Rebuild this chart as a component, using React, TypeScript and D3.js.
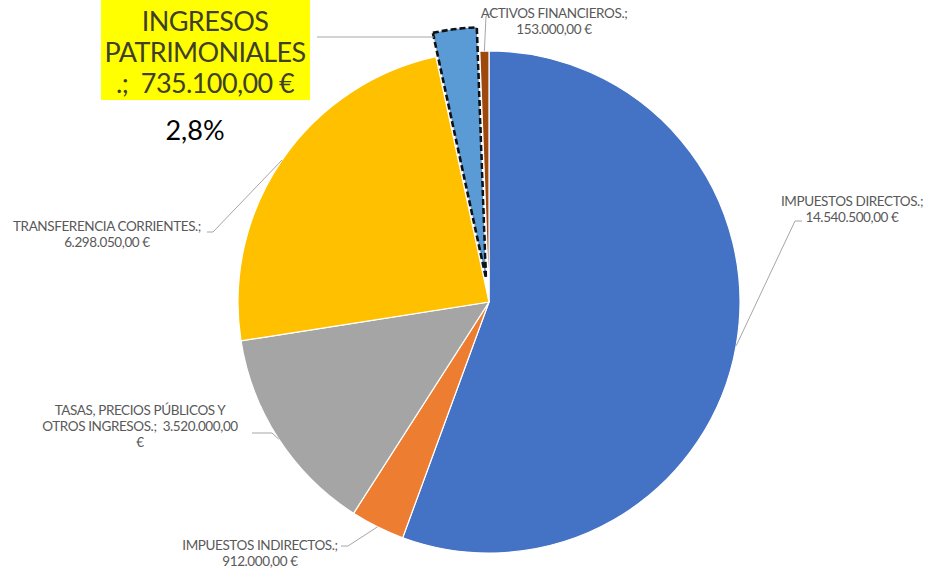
import { arc, formatLocale, pie, PieArcDatum } from "d3";

const categories = [
    "IMPUESTOS DIRECTOS",
    "IMPUESTOS INDIRECTOS",
    "TASAS, PRECIOS PÚBLICOS Y OTROS INGRESOS",
    "TRANSFERENCIA CORRIENTES",
    "INGRESOS PATRIMONIALES",
    "ACTIVOS FINANCIEROS",
];
const values = [14540500, 912000, 3520000, 6298050, 735100, 153000];
const colors = ["#4472C4", "#ED7D31", "#A5A5A5", "#FFC000", "#5B9BD5", "#9E480E"];
const highlighted = 4;

// label text lines as the source wrapped them
const labelLines = [
    ["IMPUESTOS DIRECTOS.;", "14.540.500,00 €"],
    ["IMPUESTOS INDIRECTOS.;", "912.000,00 €"],
    ["TASAS, PRECIOS PÚBLICOS Y", "OTROS INGRESOS.;  3.520.000,00", "€"],
    ["TRANSFERENCIA CORRIENTES.;", "6.298.050,00 €"],
    ["INGRESOS", "PATRIMONIALES", ".;  735.100,00 €"],
    ["ACTIVOS FINANCIEROS.;", "153.000,00 €"],
];

// layout: label centre x / first baseline, and where the leader line leaves the label
const labelPos = [
    { x: 852, y: 206, hx: 802, hy: 221, kx: 795 },
    { x: 260, y: 550, hx: 341, hy: 546, kx: 348 },
    { x: 140, y: 415, hx: 252, hy: 433, kx: 272 },
    { x: 107, y: 231, hx: 207, hy: 232, kx: 213 },
    { x: 205, y: 31, hx: 317, hy: 37, kx: 317 },
    { x: 554, y: 18, hx: 492, hy: 13, kx: 486 },
];

const W = 929;
const H = 572;
const cx = 489;
const cy = 302;
const R = 251;
const explode = 24;

const fmt = formatLocale({ decimal: ",", thousands: ".", grouping: [3], currency: ["", " €"] }).format(".1f");

export default function App() {
    const total = values.reduce((a, b) => a + b, 0);
    const arcs = pie<number>().sort(null).value((d) => d)(values);
    const arcGen = arc<PieArcDatum<number>>().innerRadius(0).outerRadius(R);
    const edge = arc<PieArcDatum<number>>().innerRadius(R).outerRadius(R);

    const offset = (d: PieArcDatum<number>, i: number) => {
        if (i !== highlighted) return [0, 0];
        const a = (d.startAngle + d.endAngle) / 2;
        return [Math.sin(a) * explode, -Math.cos(a) * explode];
    };

    const font = "Lato, 'Noto Sans', sans-serif";
    const pct = (values[highlighted] / total) * 100;

    return (
        <svg width={W} height={H} style={{ position: "absolute", left: 0, top: 0, background: "#fff" }}>
            <g transform={`translate(${cx},${cy})`}>
                {arcs.map((d, i) => {
                    const [ox, oy] = offset(d, i);
                    return (
                        <path
                            key={i}
                            d={arcGen(d) ?? ""}
                            transform={`translate(${ox},${oy})`}
                            fill={colors[i]}
                            stroke={i === highlighted ? "#111" : "#fff"}
                            strokeWidth={i === highlighted ? 2.6 : 1.2}
                            strokeDasharray={i === highlighted ? "6,3" : undefined}
                        />
                    );
                })}
            </g>

            {arcs.map((d, i) => {
                const p = labelPos[i];
                let ex: number, ey: number;
                if (i === highlighted) {
                    // leader ends on the left side of the pulled-out slice
                    const [ox, oy] = offset(d, i);
                    const dist = (cy + oy - p.hy) / Math.cos(d.startAngle);
                    ex = cx + ox + Math.sin(d.startAngle) * dist;
                    ey = p.hy;
                } else {
                    const [mx, my] = edge.centroid(d);
                    ex = cx + mx;
                    ey = cy + my;
                }
                const pts = i === 5
                    ? `${p.hx},${p.hy} ${p.kx},${p.hy + 3} ${ex},${ey}`
                    : `${p.hx},${p.hy} ${p.kx},${p.hy} ${ex},${ey}`;
                return <polyline key={i} points={pts} fill="none" stroke="#a6a6a6" strokeWidth={1} />;
            })}

            {arcs.map((d, i) => {
                if (i === highlighted) return null;
                const p = labelPos[i];
                return (
                    <text key={i} fontFamily={font} fontSize={13.5} fill="#595959" textAnchor="middle" letterSpacing={-0.4} style={{ whiteSpace: "pre" }}>
                        {labelLines[i].map((t, j) => (
                            <tspan key={j} x={p.x} y={p.y + j * 16}>{t}</tspan>
                        ))}
                    </text>
                );
            })}

            <rect x={101} y={0} width={209} height={100} fill="#ffff00" />
            <text fontFamily={font} fontSize={27} fill="#3f3f2a" textAnchor="middle" letterSpacing={-0.6} style={{ whiteSpace: "pre" }}>
                {labelLines[highlighted].map((t, j) => (
                    <tspan key={j} x={labelPos[highlighted].x} y={labelPos[highlighted].y + j * 31}>{t}</tspan>
                ))}
            </text>
            <text x={195} y={140} fontFamily={font} fontSize={27} fill="#000" textAnchor="middle">
                {fmt(pct)}%
            </text>
        </svg>
    );
}
